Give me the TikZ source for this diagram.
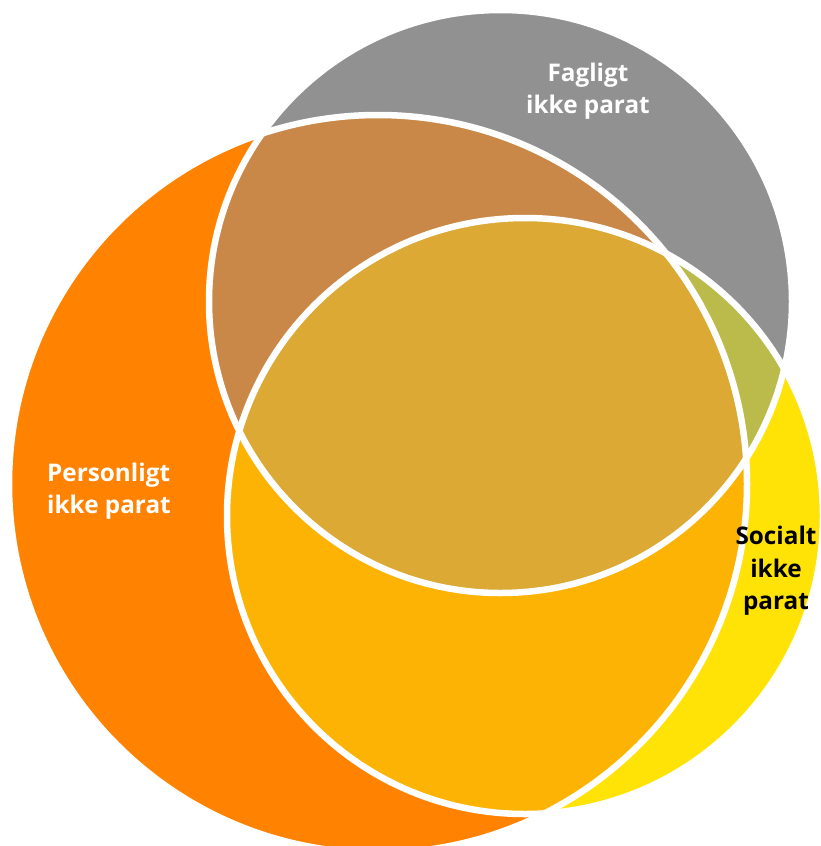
\documentclass[tikz,border=0pt]{standalone}
\usepackage{fontspec}
\setmainfont{Open Sans}
\definecolor{cgray}{HTML}{919191}
\definecolor{corange}{HTML}{FF8200}
\definecolor{cyellow}{HTML}{FFE307}
\definecolor{cbrown}{HTML}{C98848}
\definecolor{colive}{HTML}{BBBB4C}
\definecolor{cgold}{HTML}{DBA934}
\definecolor{camber}{HTML}{FCB303}
\begin{document}
\begin{tikzpicture}[x=1pt,y=-1pt,
  lbl/.style={font=\bfseries\fontsize{24.3}{32.5}\selectfont, inner sep=0pt},
  rim/.style={draw=white, line width=6.5pt}]
\fill[white] (0,0) rectangle (820,846);
\useasboundingbox (0,0) rectangle (820,846);
% base circles
\fill[cgray]   (500.5,301.5) circle[radius=291.5pt];
\fill[corange] (378,484) circle[radius=369pt];
\fill[cyellow] (525,516) circle[radius=298pt];
% G and O
\begin{scope}
  \clip (500.5,301.5) circle[radius=291.5pt];
  \fill[cbrown] (378,484) circle[radius=369pt];
\end{scope}
% G and Y
\begin{scope}
  \clip (500.5,301.5) circle[radius=291.5pt];
  \fill[colive] (525,516) circle[radius=298pt];
\end{scope}
% O and Y
\begin{scope}
  \clip (378,484) circle[radius=369pt];
  \fill[camber] (525,516) circle[radius=298pt];
\end{scope}
% G, O and Y
\begin{scope}
  \clip (500.5,301.5) circle[radius=291.5pt];
  \clip (378,484) circle[radius=369pt];
  \fill[cgold] (525,516) circle[radius=298pt];
\end{scope}
% white rims
\draw[rim] (500.5,301.5) circle[radius=291.5pt];
\draw[rim] (378,484) circle[radius=369pt];
\draw[rim] (525,516) circle[radius=298pt];
% labels
\node[lbl, text=white, align=center] (fag) at (588,91) {Fagligt\\ikke parat};
\node[lbl, text=white, align=left] (per) at (109,491) {Personligt\\ikke parat};
\node[lbl, text=black, align=center] (soc) at (776,571) {Socialt\\ikke\\parat};
\end{tikzpicture}
\end{document}
